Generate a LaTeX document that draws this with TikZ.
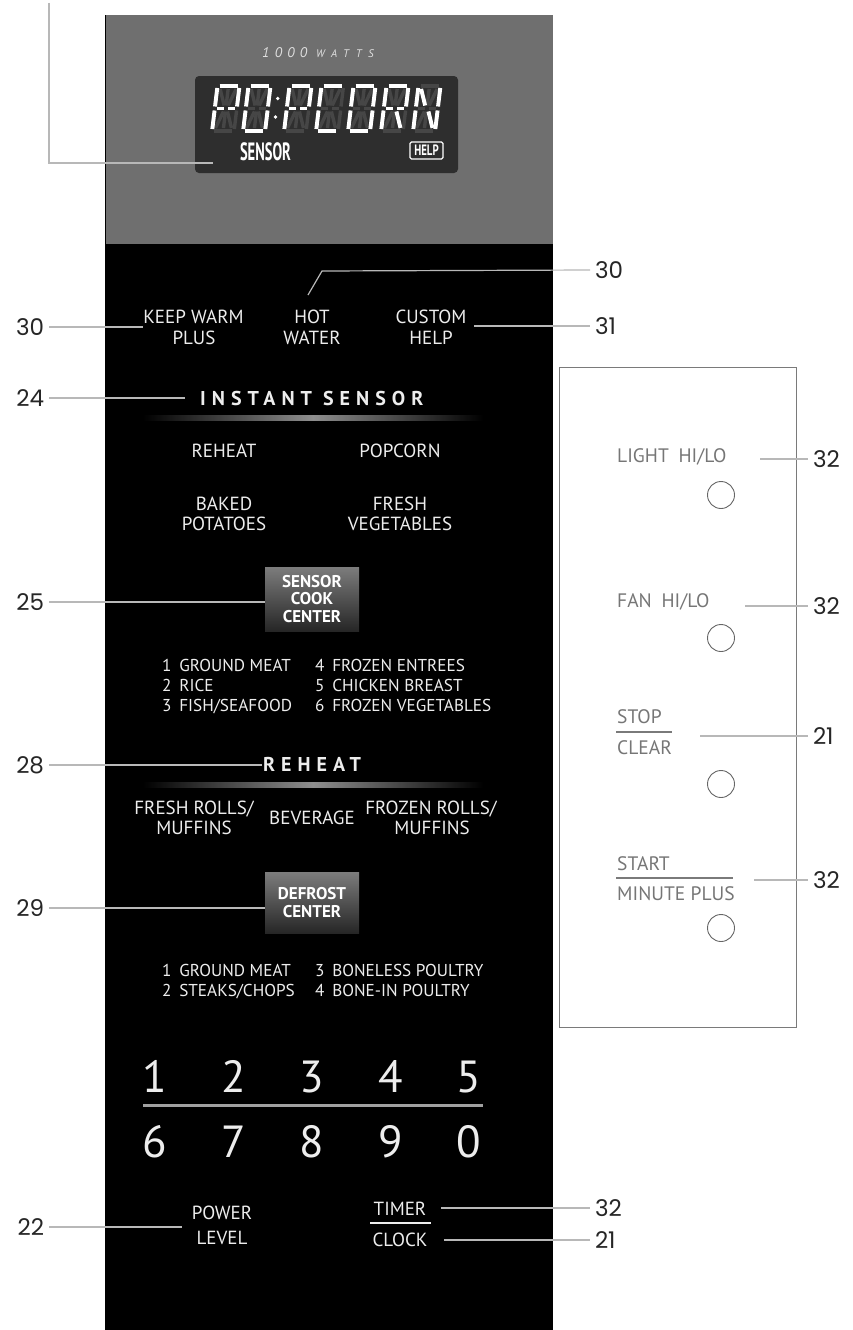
\documentclass[tikz,border=0pt]{standalone}
\usepackage{fontspec}
\usepackage{graphicx}
\setmainfont{PT Sans}
\newfontfamily\numfont{Poppins}
\newfontfamily\spacedfont[LetterSpace=30]{PT Sans}
\newfontfamily\wattfont[LetterSpace=38]{PT Sans}
\newfontfamily\wattsfont[LetterSpace=60]{PT Sans}
\definecolor{panelgray}{HTML}{6F6F6F}
\definecolor{dispbg}{HTML}{2E2E2E}
\definecolor{leadgray}{HTML}{B8B8B8}
\definecolor{keytxt}{HTML}{EDEDED}
\definecolor{rtxt}{HTML}{767676}
\definecolor{rline}{HTML}{7A7A7A}
\definecolor{segoff}{HTML}{464646}
\definecolor{btntop}{HTML}{7C7C7C}
\definecolor{btnbot}{HTML}{262626}
\definecolor{barmid}{HTML}{8E8E8E}
\definecolor{sepgray}{HTML}{A0A0A0}
\def\segall{2/0/20/0,22/2/22/20.5,22/24.5/22/43,2/45/20/45,0/24.5/0/43,0/2/0/20.5,2/22.5/9/22.5,13/22.5/20/22.5,3/3/9/19.5,11/3/11/19.5,19/3/13/19.5,3/42/9/25.5,11/25.5/11/42,19/42/13/25.5}
\def\segP{2/0/20/0,22/2/22/20.5,0/2/0/20.5,2/22.5/9/22.5,13/22.5/20/22.5,0/24.5/0/43}
\def\segO{2/0/20/0,22/2/22/20.5,22/24.5/22/43,2/45/20/45,0/24.5/0/43,0/2/0/20.5}
\def\segC{2/0/20/0,2/45/20/45,0/24.5/0/43,0/2/0/20.5}
\def\segR{2/0/20/0,22/2/22/20.5,0/2/0/20.5,2/22.5/9/22.5,13/22.5/20/22.5,0/24.5/0/43,19/42/13/25.5}
\def\segN{0/2/0/20.5,0/24.5/0/43,22/2/22/20.5,22/24.5/22/43,3/3/9/19.5,19/42/13/25.5}
\newcommand\lcdchar[3]{%
  \begin{scope}[shift={(#1,#2)},xslant=0.12]
    \foreach \xa/\ya/\xb/\yb in \segall {\draw[segoffst] (\xa,\ya) -- (\xb,\yb);}
    \foreach \xa/\ya/\xb/\yb in #3 {\draw[segonst] (\xa,\ya) -- (\xb,\yb);}
  \end{scope}}
\begin{document}
\begin{tikzpicture}[x=1pt,y=-1pt,
  key/.style={text=keytxt, font=\fontsize{19}{21}\selectfont, anchor=base, inner sep=0},
  keyl/.style={text=keytxt, font=\fontsize{17.2}{20}\selectfont, anchor=base west, inner sep=0},
  head/.style={text=keytxt, font=\spacedfont\bfseries\fontsize{20}{22}\selectfont, anchor=base west, inner sep=0},
  btn/.style={top color=btntop, bottom color=btnbot, text=white, font=\bfseries\fontsize{17}{17.5}\selectfont, align=center, inner sep=0, minimum width=94},
  digit/.style={text=keytxt, font=\fontsize{45}{45}\selectfont, anchor=base, inner sep=0},
  rkey/.style={text=rtxt, font=\fontsize{19.5}{21}\selectfont, anchor=base west, inner sep=0},
  callout/.style={text=black!85, font=\numfont\fontsize{23}{25}\selectfont, inner sep=0, outer sep=5},
  leader/.style={draw=leadgray, line width=1.2},
  knob/.style={circle, draw=black!60, line width=0.9, fill=white, minimum size=27, inner sep=0},
  gbar/.style={left color=black, right color=black, middle color=barmid},
  segoffst/.style={draw=segoff, line width=3.4},
  segonst/.style={draw=white, line width=3.9}
]
\useasboundingbox (0,0) rectangle (853,1330);
\fill[white] (0,0) rectangle (853,1330);
% panel
\fill[black] (104.5,15) rectangle (553,1330);
\fill[panelgray] (106,15) rectangle (553,244);
% display
\node[fill=dispbg, rounded corners=4, minimum width=263, minimum height=97, inner sep=0] (disp) at (326.5,124.5) {};
\node[text=white!88!black, font=\wattfont\itshape\fontsize{14}{15}\selectfont, anchor=base west, inner sep=0] (w1000) at (262,57.5) {1000};
\node[text=white!88!black, font=\wattsfont\itshape\fontsize{11}{11}\selectfont, anchor=base west, inner sep=0] (wwatts) at (316,57.5) {WATTS};
\lcdchar{217.5}{86}{\segP}
\lcdchar{248.5}{86}{\segO}
\lcdchar{289.5}{86}{\segP}
\lcdchar{321.5}{86}{\segC}
\lcdchar{353.5}{86}{\segO}
\lcdchar{386.5}{86}{\segR}
\lcdchar{418.5}{86}{\segN}
\fill[white] (277.7,98.5) circle (1.8) (275.5,117) circle (1.8);
\node[text=white, font=\bfseries\fontsize{25}{25}\selectfont, anchor=base, inner sep=0] (dsensor) at (265.5,160) {\scalebox{0.58}[1]{SENSOR}};
\node[draw=white, line width=1.1, rounded corners=1.5, minimum width=33, minimum height=17, inner sep=0, text=white, font=\bfseries\fontsize{15}{15}\selectfont] (help) at (426.5,150.5) {\scalebox{0.72}[1]{HELP}};
% top keys
\node[key] (kw1) at (193.5,323) {KEEP WARM};
\node[key] (kw2) at (194,344) {PLUS};
\node[key] (hw1) at (312,323) {HOT};
\node[key] (hw2) at (312,344) {WATER};
\node[key] (cu1) at (431,323) {CUSTOM};
\node[key] (cu2) at (431,344) {HELP};
% instant sensor
\node[head] (ins) at (200,405) {INSTANT SENSOR};
\shade[gbar] (143,415) rectangle (483,420);
\node[key] (rh) at (224,457) {REHEAT};
\node[key] (pc) at (400,457) {POPCORN};
\node[key] (bp1) at (224,510) {BAKED};
\node[key] (bp2) at (224,530) {POTATOES};
\node[key] (fv1) at (400,510) {FRESH};
\node[key] (fv2) at (400,530) {VEGETABLES};
\node[btn, minimum height=64] (scc) at (312,599) {SENSOR\\COOK\\CENTER};
\node[keyl] (l1) at (162,671) {1\hspace{0.45em}GROUND MEAT};
\node[keyl] (l2) at (162,691) {2\hspace{0.45em}RICE};
\node[keyl] (l3) at (162,711) {3\hspace{0.45em}FISH/SEAFOOD};
\node[keyl] (l4) at (315,671) {4\hspace{0.45em}FROZEN ENTREES};
\node[keyl] (l5) at (315,691) {5\hspace{0.45em}CHICKEN BREAST};
\node[keyl] (l6) at (315,711) {6\hspace{0.45em}FROZEN VEGETABLES};
% reheat
\node[head] (rhh) at (263,771) {REHEAT};
\shade[gbar] (143,782) rectangle (483,787);
\node[key] (fr1) at (194,814) {FRESH ROLLS/};
\node[key] (fr2) at (194,834) {MUFFINS};
\node[key] (bev) at (312,824) {BEVERAGE};
\node[key] (zr1) at (431,814) {FROZEN ROLLS/};
\node[key] (zr2) at (432,834) {MUFFINS};
\node[btn, minimum height=61] (dfc) at (312,902.5) {DEFROST\\CENTER};
\node[keyl] (d1) at (162,976) {1\hspace{0.45em}GROUND MEAT};
\node[keyl] (d2) at (162,996) {2\hspace{0.45em}STEAKS/CHOPS};
\node[keyl] (d3) at (315,976) {3\hspace{0.45em}BONELESS POULTRY};
\node[keyl] (d4) at (315,996) {4\hspace{0.45em}BONE-IN POULTRY};
% digits
\node[digit] (n1) at (155,1092) {1};
\node[digit] (n2) at (234,1092) {2};
\node[digit] (n3) at (312,1092) {3};
\node[digit] (n4) at (391,1092) {4};
\node[digit] (n5) at (469,1092) {5};
\draw[sepgray, line width=3] (143,1105) -- (483,1105);
\node[digit] (n6) at (155,1157) {6};
\node[digit] (n7) at (234,1157) {7};
\node[digit] (n8) at (312,1157) {8};
\node[digit] (n9) at (391,1157) {9};
\node[digit] (n0) at (469,1157) {0};
% bottom keys
\node[key] (pl1) at (222,1219) {POWER};
\node[key] (pl2) at (222,1244) {LEVEL};
\node[key] (tm) at (400,1215) {TIMER};
\draw[keytxt, line width=1.6] (370,1223) -- (431,1223);
\node[key] (ck) at (400,1246) {CLOCK};
% right panel
\draw[rline, line width=1, fill=white] (559,367) rectangle (796,1027);
\node[rkey] (lt) at (617,462) {LIGHT\hspace{0.5em}HI/LO};
\node[knob] (k1) at (721,495) {};
\node[rkey] (fn) at (617,607) {FAN\hspace{0.5em}HI/LO};
\node[knob] (k2) at (721,638) {};
\node[rkey] (st) at (617,723) {STOP};
\draw[rline, line width=1.8] (616,732) -- (672,732);
\node[rkey] (cl) at (617,754) {CLEAR};
\node[knob] (k3) at (721,784) {};
\node[rkey] (sa) at (617,870) {START};
\draw[rline, line width=1.8] (616,878) -- (733,878);
\node[rkey] (mp) at (617,900) {MINUTE PLUS};
\node[knob] (k4) at (721,928) {};
% callouts
\coordinate (dtop) at (49,3);
\coordinate (dend) at (213,163);
\draw[leader] (dtop) |- (dend);
\node[callout, anchor=west] (c30a) at (590,270) {30};
\coordinate (hwtip) at (308,295);
\coordinate (hwknee) at (322,271);
\draw[leader] (hwtip) -- (hwknee) -- (c30a.west);
\node[callout, anchor=west] (c31) at (590,326) {31};
\coordinate (cutip) at (474,326);
\draw[leader] (cutip) -- (c31.west);
\node[callout, anchor=east] (c30b) at (49,327) {30};
\coordinate (kwtip) at (143,327);
\draw[leader] (c30b.east) -- (kwtip);
\node[callout, anchor=east] (c24) at (49,398) {24};
\coordinate (instip) at (185,398);
\draw[leader] (c24.east) -- (instip);
\node[callout, anchor=east] (c25) at (49,602) {25};
\draw[leader] (c25.east) -- (c25.east -| scc.west);
\node[callout, anchor=east] (c28) at (49,765) {28};
\coordinate (rhtip) at (262,765);
\draw[leader] (c28.east) -- (rhtip);
\node[callout, anchor=east] (c29) at (49,908) {29};
\draw[leader] (c29.east) -- (c29.east -| dfc.west);
\node[callout, anchor=east] (c22) at (49,1227) {22};
\coordinate (pltip) at (182,1227);
\draw[leader] (c22.east) -- (pltip);
\node[callout, anchor=west] (c32t) at (590,1208) {32};
\coordinate (tmtip) at (441,1208);
\draw[leader] (tmtip) -- (c32t.west);
\node[callout, anchor=west] (c21c) at (590,1240) {21};
\coordinate (cktip) at (444,1240);
\draw[leader] (cktip) -- (c21c.west);
\node[callout, anchor=west] (c32a) at (808,459) {32};
\coordinate (lttip) at (760,459);
\draw[leader] (lttip) -- (c32a.west);
\node[callout, anchor=west] (c32b) at (808,606) {32};
\coordinate (fntip) at (745,606);
\draw[leader] (fntip) -- (c32b.west);
\node[callout, anchor=west] (c21a) at (808,736) {21};
\coordinate (sttip) at (700,736);
\draw[leader] (sttip) -- (c21a.west);
\node[callout, anchor=west] (c32c) at (808,880) {32};
\coordinate (satip) at (754,880);
\draw[leader] (satip) -- (c32c.west);
\end{tikzpicture}
\end{document}
